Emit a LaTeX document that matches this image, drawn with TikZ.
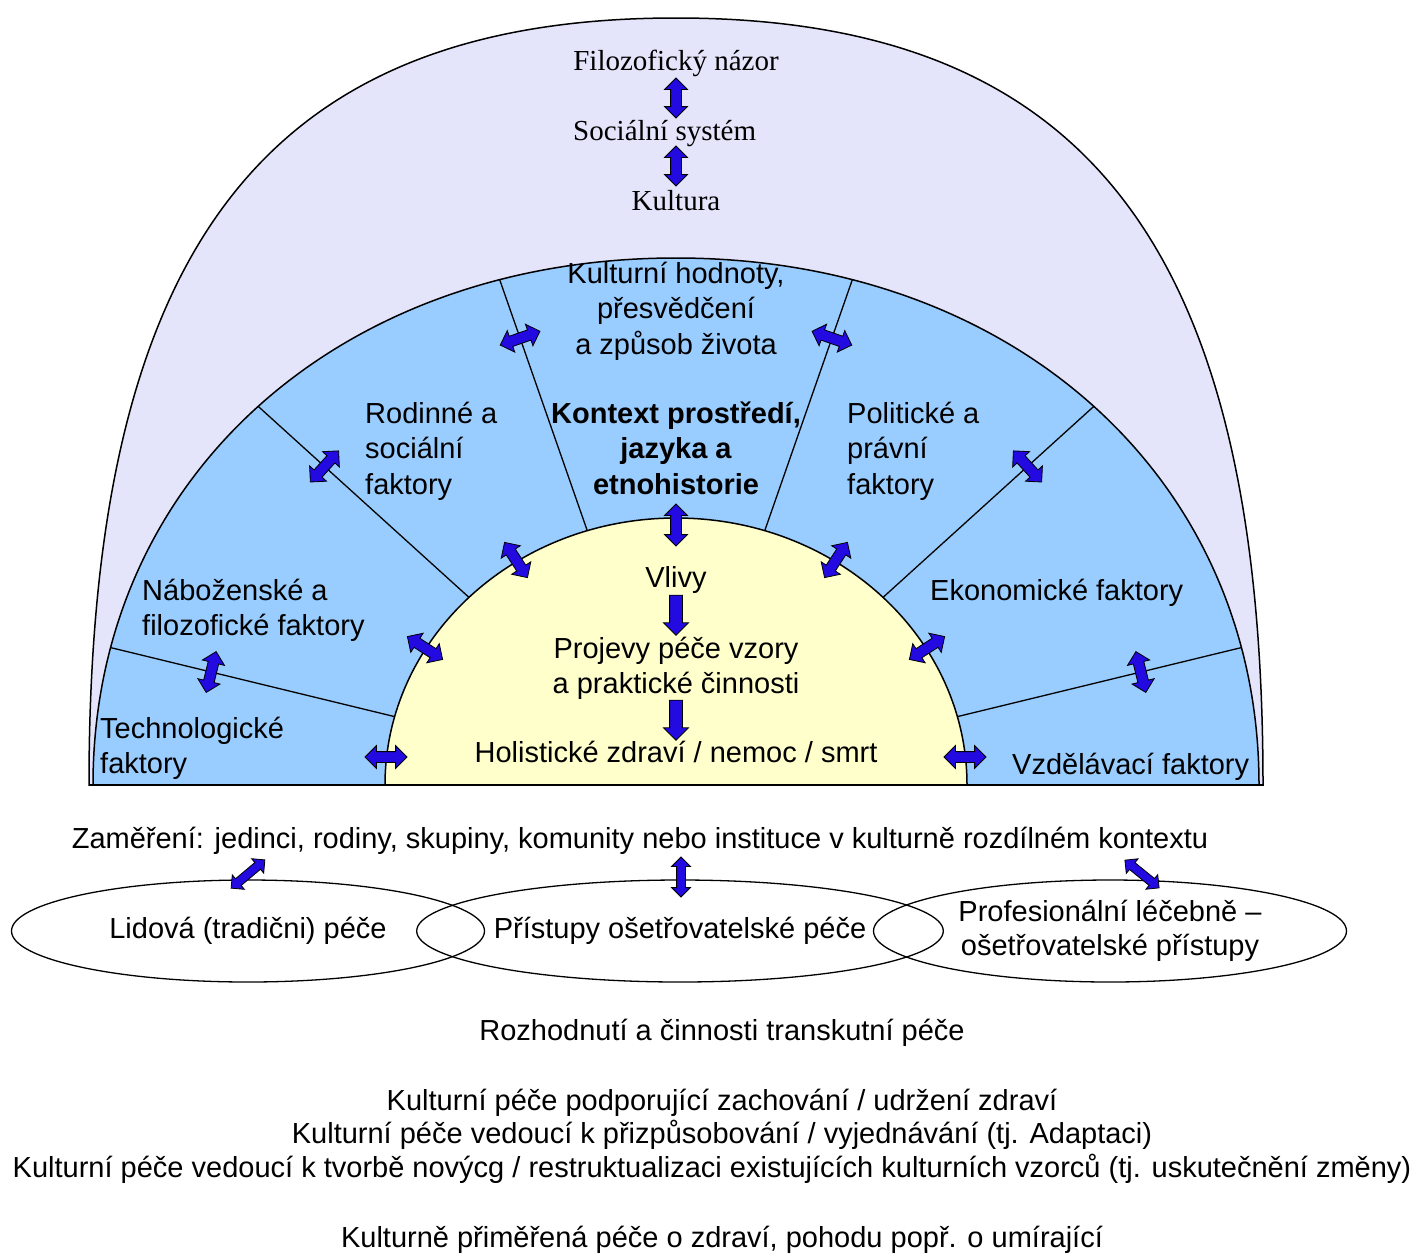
\documentclass[tikz,border=0pt]{standalone}
\usepackage{fontspec}
\setmainfont{Liberation Sans}
\newfontfamily\serifface{Liberation Serif}
\usetikzlibrary{shapes.arrows,shapes.geometric,calc}

\definecolor{lavender}{RGB}{228,228,250}
\definecolor{ringblue}{RGB}{153,204,255}
\definecolor{coreyellow}{RGB}{255,255,204}
\definecolor{arrowblue}{RGB}{34,10,225}

\begin{document}
\begin{tikzpicture}[x=1pt,y=-1pt,
  outline/.style={draw=black,line width=1.5pt},
  divider/.style={draw=black,line width=1.3pt},
  lbl/.style={font=\fontsize{29}{35.5}\selectfont, inner sep=0pt, anchor=base, align=center},
  lblb/.style={font=\bfseries\fontsize{29}{35.5}\selectfont, inner sep=0pt, anchor=base, align=center},
  lbll/.style={font=\fontsize{29}{35.5}\selectfont, inner sep=0pt, anchor=base west, align=left},
  slbl/.style={font=\serifface\fontsize{29}{35}\selectfont, inner sep=0pt, anchor=base},
  darrow/.style={double arrow, draw=black, fill=arrowblue, line width=0.8pt,
    inner xsep=0pt, inner ysep=5pt, minimum height=42pt, double arrow head extend=6pt},
  thinarrow/.style={darrow, inner ysep=4pt, double arrow head extend=5pt},
  sarrow/.style={single arrow, draw=black, fill=arrowblue, line width=0.8pt,
    inner xsep=0pt, inner ysep=6pt, minimum height=40pt, single arrow head extend=6pt, rotate=-90},
  oval/.style={ellipse, draw=black, line width=1.3pt, minimum width=473pt, minimum height=102pt,
    inner sep=0pt, font=\fontsize{29}{34}\selectfont, align=center},
]
\useasboundingbox (0,0) rectangle (1424,1256);
\fill[white] (0,0) rectangle (1424,1256);

% centre of the nested domes and the directions of the sector dividers
\coordinate (C) at (676,785);
\coordinate (D1) at (100,645);
\coordinate (D2) at (260,408);
\coordinate (D3) at (497,272);
\coordinate (D4) at (855,272);
\coordinate (D5) at (1092,408);
\coordinate (D6) at (1252,645);

% outer dome
\path[fill=lavender, outline] (89,785) .. controls (89,248) and (265,18) .. (676,18)
  .. controls (1087,18) and (1263,248) .. (1263,785) -- cycle;

% middle dome (factors)
\def\ringpath{(93,785) .. controls (93,479) and (338,258) .. (676,258)
  .. controls (1014,258) and (1259,479) .. (1259,785) -- cycle}
\fill[ringblue] \ringpath;
\begin{scope}
  \clip \ringpath;
  \foreach \d in {D1,D2,D3,D4,D5,D6}
    \draw[divider] (C) -- ($(C)!1.3!(\d)$);
\end{scope}
\draw[outline] \ringpath;

% inner dome
\path[fill=coreyellow, outline] (385,785) .. controls (385,637.5) and (515.3,518) .. (676,518)
  .. controls (836.7,518) and (967,637.5) .. (967,785) -- cycle;
\draw[draw=black, line width=2pt] (89,785) -- (1263,785);

% outer dome texts
\node[slbl] (phil) at (676,70) {Filozofický názor};
\node[slbl, anchor=base west] (soc) at (573,140) {Sociální systém};
\node[slbl] (kult) at (676,210) {Kultura};
\node[darrow, rotate=90, minimum height=40pt] (a-ps) at (676,98) {};
\node[darrow, rotate=90, minimum height=40pt] (a-sk) at (676,166) {};

% factor labels (base = baseline of the last line)
\node[lbl] (values) at (676,354) {Kulturní hodnoty,\\přesvědčení\\a způsob života};
\node[lblb] (context) at (676,494) {Kontext prostředí,\\jazyka a\\etnohistorie};
\node[lbll] (family) at (365,494) {Rodinné a\\sociální\\faktory};
\node[lbll] (polit) at (847,494) {Politické a\\právní\\faktory};
\node[lbll] (relig) at (142,635.5) {Náboženské a\\filozofické faktory};
\node[lbll] (econ) at (930,600) {Ekonomické faktory};
\node[lbll] (tech) at (100,773.5) {Technologické\\faktory};
\node[lbll] (edu) at (1012,774) {Vzdělávací faktory};

% arrows across the sector dividers
\node[darrow, rotate=76.3] (r1) at ($(C)!0.807!(D1)$) {};
\node[darrow, rotate=47.8] (r2) at ($(C)!0.845!(D2)$) {};
\node[darrow, rotate=19.2] (r3) at ($(C)!0.871!(D3)$) {};
\node[darrow, rotate=-19.2] (r4) at ($(C)!0.871!(D4)$) {};
\node[darrow, rotate=-47.8] (r5) at ($(C)!0.845!(D5)$) {};
\node[darrow, rotate=-76.3] (r6) at ($(C)!0.807!(D6)$) {};

% arrows across the inner dome border
\node[darrow, rotate=0] (y1) at (386,757) {};
\node[darrow, rotate=147] (y2) at (425,648) {};
\node[darrow, rotate=123] (y3) at (516,560) {};
\node[darrow, rotate=90] (y4) at (676,525) {};
\node[darrow, rotate=57] (y5) at (836,560) {};
\node[darrow, rotate=33] (y6) at (927,648) {};
\node[darrow, rotate=0] (y7) at (965,757) {};

% inner dome texts
\node[lbl] (infl) at (676,587) {Vlivy};
\node[lbl] (expr) at (676,693.5) {Projevy péče vzory\\a praktické činnosti};
\node[lbl] (health) at (676,762) {Holistické zdraví / nemoc / smrt};
\node[sarrow] (a-ie) at (676,612) {};
\node[sarrow] (a-eh) at (676,717) {};

% focus line and care systems
\node[lbl] (focus) at (640,848) {Zaměření: jedinci, rodiny, skupiny, komunity nebo instituce v kulturně rozdílném kontextu};
\node[oval] (folk) at (248,931) {Lidová (tradični) péče};
\node[oval] (nurse) at (680,931) {Přístupy ošetřovatelské péče};
\node[oval] (prof) at (1110,931) {Profesionální léčebně –\\ošetřovatelské přístupy};
\node[thinarrow, rotate=40, minimum height=44pt] (b1) at (248,874) {};
\node[thinarrow, rotate=90, minimum height=40pt] (b2) at (681,877) {};
\node[thinarrow, rotate=-39, minimum height=44pt] (b3) at (1142,874) {};

% decisions and outcome
\node[lbl] (dec) at (722,1040) {Rozhodnutí a činnosti transkutní péče};
\node[lbl] (c1) at (722,1110) {Kulturní péče podporující zachování / udržení zdraví};
\node[lbl] (c2) at (722,1143) {Kulturní péče vedoucí k přizpůsobování / vyjednávání (tj. Adaptaci)};
\node[lbl] (c3) at (712,1177) {Kulturní péče vedoucí k tvorbě novýcg / restruktualizaci existujících kulturních vzorců (tj. uskutečnění změny)};
\node[lbl] (outcome) at (722,1247) {Kulturně přiměřená péče o zdraví, pohodu popř. o umírající};
\end{tikzpicture}
\end{document}
